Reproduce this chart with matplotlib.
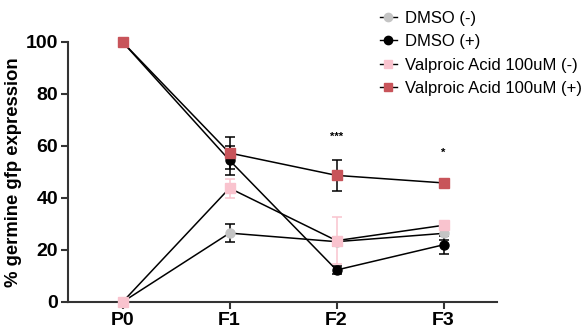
import numpy as np
import matplotlib.pyplot as plt
from matplotlib.lines import Line2D

plt.rcParams['font.family'] = ['Liberation Sans', 'DejaVu Sans']

# data
gens = ['P0', 'F1', 'F2', 'F3']
labels = ['DMSO (-)', 'DMSO (+)', 'Valproic Acid 100uM (-)', 'Valproic Acid 100uM (+)']
dmso_neg = [0, 26.5, 23.2, 26.4]
dmso_neg_err = [0, 3.5, 1.8, 2.5]
dmso_pos = [100, 54.5, 12.3, 22.0]
dmso_pos_err = [0, 5.5, 1.5, 3.5]
vpa_neg = [0, 43.8, 23.6, 29.5]
vpa_neg_err = [0, 3.7, 9.0, 1.5]
vpa_pos = [100, 57.3, 48.7, 45.8]
vpa_pos_err = [0, 6.0, 6.0, 1.2]
stars = {'F2': ('***', 61.5), 'F3': ('*', 55.5)}

colors = ['#c4c4c4', '#000000', '#f9c3ce', '#c8545a']
markers = ['o', 'o', 's', 's']
ecolors = ['black', 'black', '#f9c3ce', 'black']

fig = plt.figure(figsize=(5.87, 3.33), dpi=100)
ax = fig.add_axes([68/587, 31/333, 429/587, 260/333])

x = np.arange(len(gens))
series = [(dmso_neg, dmso_neg_err), (dmso_pos, dmso_pos_err),
          (vpa_neg, vpa_neg_err), (vpa_pos, vpa_pos_err)]

handles = []
for (y, e), c, m, ec, lab in zip(series, colors, markers, ecolors, labels):
    ax.errorbar(x, y, yerr=e, fmt='none', ecolor=ec, elinewidth=1.1,
                capsize=3.5, capthick=1.1, zorder=2, clip_on=False)
    ax.plot(x, y, color='black', lw=1.1, zorder=3, clip_on=False)
    ax.plot(x, y, ls='none', marker=m, ms=6.5, mfc=c, mec=c, zorder=4, clip_on=False)
    handles.append(Line2D([], [], color='black', lw=1.0, marker=m, ms=6,
                          mfc=c, mec=c, label=lab))

for g, (s, yv) in stars.items():
    ax.text(gens.index(g), yv, s, ha='center', va='bottom', fontsize=8, fontweight='bold')

ax.set_xlim(-0.51, 3.5)
ax.set_ylim(0, 100)
ax.set_xticks(x)
ax.set_xticklabels(gens)
ax.set_yticks([0, 20, 40, 60, 80, 100])
ax.set_ylabel('% germine gfp expression', fontsize=13.3, fontweight='bold', labelpad=3)
for lbl in ax.get_xticklabels() + ax.get_yticklabels():
    lbl.set_fontweight('bold')
ax.tick_params(labelsize=14, width=1.5, length=5, color='#333333', pad=2)
ax.spines[['top', 'right']].set_visible(False)
for sp in ['left', 'bottom']:
    ax.spines[sp].set_linewidth(1.5)
    ax.spines[sp].set_color('#333333')

fig.legend(handles=handles, loc='upper left', bbox_to_anchor=(380/587, 1 - 11/333),
           frameon=False, fontsize=12, handlelength=1.0, handletextpad=0.5,
           labelspacing=0.5, borderaxespad=0, borderpad=0)

fig.savefig('out.png', dpi=100)
